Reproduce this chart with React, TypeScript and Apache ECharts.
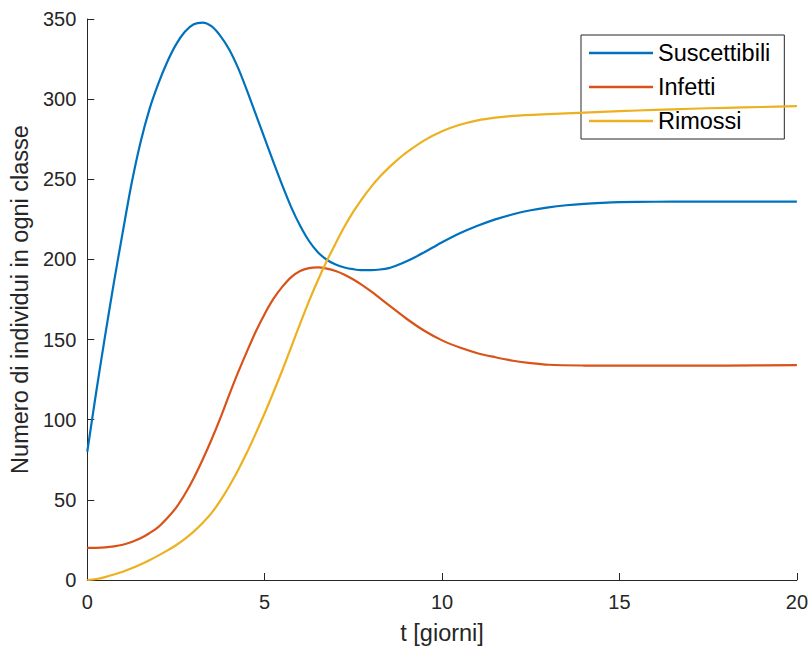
import React, { useEffect, useRef } from "react";
import * as echarts from "echarts";

const seriesNames = ["Suscettibili", "Infetti", "Rimossi"];
const colors = ["#0072BD", "#D95319", "#EDB120"];

const tS = [0, 0.25, 0.5, 0.75, 1, 1.25, 1.5, 1.75, 2, 2.25, 2.5, 2.75, 3, 3.25, 3.5, 3.75, 4, 4.25, 4.5, 4.75, 5, 5.25, 5.5, 5.75, 6, 6.25, 6.5, 6.75, 7, 7.25, 7.5, 7.75, 8, 8.25, 8.5, 8.75, 9, 9.25, 9.5, 9.75, 10, 10.5, 11, 11.5, 12, 12.5, 13, 13.5, 14, 14.5, 15, 16, 17, 18, 20];
const vS = [80, 117, 152, 185.5, 217, 247.5, 273, 293.5, 309.5, 323, 334, 342, 346.7, 347.8, 345.5, 339.5, 331, 319.5, 305.5, 290.5, 275.5, 260.5, 246, 232.5, 221, 211.5, 204.5, 199.8, 196.8, 195, 193.9, 193.3, 193.3, 193.7, 194.6, 196.5, 198.8, 201.5, 204.5, 207.6, 210.7, 216.3, 221, 225, 228.2, 230.7, 232.5, 233.8, 234.7, 235.3, 235.7, 236, 236.1, 236.1, 236.1];

const tI = [0, 0.25, 0.5, 0.75, 1, 1.25, 1.5, 1.75, 2, 2.25, 2.5, 2.75, 3, 3.25, 3.5, 3.75, 4, 4.25, 4.5, 4.75, 5, 5.25, 5.5, 5.75, 6, 6.25, 6.5, 6.75, 7, 7.25, 7.5, 7.75, 8, 8.5, 9, 9.5, 10, 10.5, 11, 11.5, 12, 12.5, 13, 14, 15, 16, 18, 20];
const vI = [20, 20.1, 20.4, 21, 22, 23.7, 26, 29.2, 33, 38.5, 45, 53.5, 63.5, 75, 87.5, 101, 115.5, 129.5, 142.5, 155, 166, 175.5, 183, 189, 192.8, 194.6, 195, 194.3, 192.8, 190.5, 187.5, 184, 180, 171.5, 163, 155.5, 149.5, 145, 141.5, 139, 136.8, 135.3, 134.3, 133.8, 133.7, 133.7, 133.8, 134];

const tR = [0, 0.25, 0.5, 0.75, 1, 1.25, 1.5, 1.75, 2, 2.25, 2.5, 2.75, 3, 3.25, 3.5, 3.75, 4, 4.25, 4.5, 4.75, 5, 5.25, 5.5, 5.75, 6, 6.25, 6.5, 6.75, 7, 7.25, 7.5, 7.75, 8, 8.25, 8.5, 8.75, 9, 9.5, 10, 10.5, 11, 11.5, 12, 13, 14, 15, 16, 17, 18, 19, 20];
const vR = [0, 0.6, 1.8, 3.4, 5.2, 7.3, 9.7, 12.3, 15.2, 18.3, 21.7, 25.7, 30.2, 35.5, 41.7, 49.5, 58.5, 68.5, 79.5, 91.5, 104, 117.3, 131, 145.5, 160, 174, 187, 199, 210, 220.5, 229.8, 238, 245.3, 251.7, 257.3, 262.3, 266.8, 274.3, 280, 284, 286.8, 288.5, 289.6, 290.7, 291.6, 292.5, 293.3, 294, 294.6, 295.1, 295.6];

const xTicks = { min: 0, max: 20, interval: 5 };
const yTicks = { min: 0, max: 350, interval: 50 };

const FONT = "'Liberation Sans', Arial, Helvetica, sans-serif";
const INK = "#262626";

function pairs(t: number[], v: number[]) {
  return t.map((x, i) => [x, v[i]]);
}

export default function App() {
  const ref = useRef<HTMLDivElement>(null);
  useEffect(() => {
    document.body.style.margin = "0";
    if (!ref.current) return;
    const chart = echarts.init(ref.current, null, { renderer: "svg" });
    const data = [pairs(tS, vS), pairs(tI, vI), pairs(tR, vR)];
    chart.setOption({
      animation: false,
      backgroundColor: "#ffffff",
      grid: { left: 86, right: 14, top: 19, bottom: 71, containLabel: false },
      xAxis: {
        type: "value",
        min: xTicks.min,
        max: xTicks.max,
        interval: xTicks.interval,
        name: "t [giorni]",
        nameLocation: "middle",
        nameGap: 41,
        nameTextStyle: { fontSize: 23.5, color: INK, fontFamily: FONT },
        axisLine: { show: true, lineStyle: { color: INK, width: 1 } },
        axisTick: { show: true, inside: true, length: 7, lineStyle: { color: INK } },
        axisLabel: { fontSize: 20, color: INK, fontFamily: FONT, margin: 12 },
        splitLine: { show: false },
      },
      yAxis: {
        type: "value",
        min: yTicks.min,
        max: yTicks.max,
        interval: yTicks.interval,
        name: "Numero di individui in ogni classe",
        nameLocation: "middle",
        nameRotate: 90,
        nameGap: 53,
        nameTextStyle: { fontSize: 23.5, color: INK, fontFamily: FONT },
        axisLine: { show: true, lineStyle: { color: INK, width: 1 } },
        axisTick: { show: true, inside: true, length: 7, lineStyle: { color: INK } },
        axisLabel: { fontSize: 20, color: INK, fontFamily: FONT, margin: 11 },
        splitLine: { show: false },
      },
      legend: {
        orient: "vertical",
        left: 581,
        top: 35,
        padding: [6, 14, 6, 8],
        itemGap: 10,
        itemWidth: 64,
        itemHeight: 2.5,
        icon: "rect",
        borderColor: INK,
        borderWidth: 1,
        backgroundColor: "#ffffff",
        textStyle: { fontSize: 23.5, lineHeight: 23.5, color: "#000000", fontFamily: FONT },
        data: seriesNames,
      },
      series: seriesNames.map((name, i) => ({
        name,
        type: "line",
        data: data[i],
        showSymbol: false,
        symbol: "none",
        smooth: 0.3,
        lineStyle: { color: colors[i], width: 2.2 },
        itemStyle: { color: colors[i] },
        z: 2 + i,
      })),
    });
    return () => chart.dispose();
  }, []);
  return <div ref={ref} style={{ width: 811, height: 651 }} />;
}
